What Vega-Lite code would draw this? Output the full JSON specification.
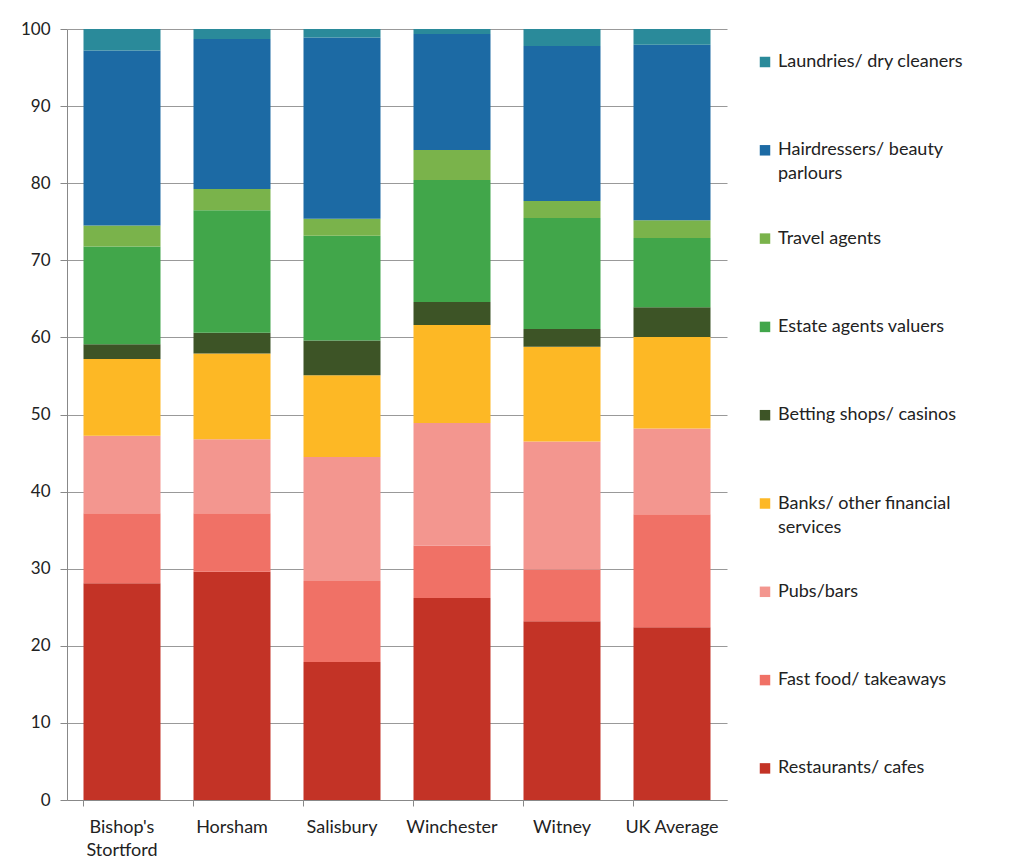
{
  "$schema": "https://vega.github.io/schema/vega-lite/v6.json",
  "width": 660,
  "height": 771,
  "autosize": {"type": "none"},
  "padding": {"left": 67, "top": 29, "right": 291, "bottom": 62},
  "background": "white",
  "data": {
    "values": [
      {"town": "Bishop's Stortford", "category": "Restaurants/ cafes", "rank": 1, "pct": 28.1},
      {"town": "Bishop's Stortford", "category": "Fast food/ takeaways", "rank": 2, "pct": 9.1},
      {"town": "Bishop's Stortford", "category": "Pubs/bars", "rank": 3, "pct": 10.05},
      {"town": "Bishop's Stortford", "category": "Banks/ other financial services", "rank": 4, "pct": 9.95},
      {"town": "Bishop's Stortford", "category": "Betting shops/ casinos", "rank": 5, "pct": 1.9},
      {"town": "Bishop's Stortford", "category": "Estate agents valuers", "rank": 6, "pct": 12.7},
      {"town": "Bishop's Stortford", "category": "Travel agents", "rank": 7, "pct": 2.7},
      {"town": "Bishop's Stortford", "category": "Hairdressers/ beauty parlours", "rank": 8, "pct": 22.7},
      {"town": "Bishop's Stortford", "category": "Laundries/ dry cleaners", "rank": 9, "pct": 2.8},

      {"town": "Horsham", "category": "Restaurants/ cafes", "rank": 1, "pct": 29.6},
      {"town": "Horsham", "category": "Fast food/ takeaways", "rank": 2, "pct": 7.6},
      {"town": "Horsham", "category": "Pubs/bars", "rank": 3, "pct": 9.6},
      {"town": "Horsham", "category": "Banks/ other financial services", "rank": 4, "pct": 11.1},
      {"town": "Horsham", "category": "Betting shops/ casinos", "rank": 5, "pct": 2.7},
      {"town": "Horsham", "category": "Estate agents valuers", "rank": 6, "pct": 15.9},
      {"town": "Horsham", "category": "Travel agents", "rank": 7, "pct": 2.75},
      {"town": "Horsham", "category": "Hairdressers/ beauty parlours", "rank": 8, "pct": 19.45},
      {"town": "Horsham", "category": "Laundries/ dry cleaners", "rank": 9, "pct": 1.3},

      {"town": "Salisbury", "category": "Restaurants/ cafes", "rank": 1, "pct": 17.9},
      {"town": "Salisbury", "category": "Fast food/ takeaways", "rank": 2, "pct": 10.5},
      {"town": "Salisbury", "category": "Pubs/bars", "rank": 3, "pct": 16.1},
      {"town": "Salisbury", "category": "Banks/ other financial services", "rank": 4, "pct": 10.6},
      {"town": "Salisbury", "category": "Betting shops/ casinos", "rank": 5, "pct": 4.5},
      {"town": "Salisbury", "category": "Estate agents valuers", "rank": 6, "pct": 13.6},
      {"town": "Salisbury", "category": "Travel agents", "rank": 7, "pct": 2.2},
      {"town": "Salisbury", "category": "Hairdressers/ beauty parlours", "rank": 8, "pct": 23.5},
      {"town": "Salisbury", "category": "Laundries/ dry cleaners", "rank": 9, "pct": 1.1},

      {"town": "Winchester", "category": "Restaurants/ cafes", "rank": 1, "pct": 26.2},
      {"town": "Winchester", "category": "Fast food/ takeaways", "rank": 2, "pct": 6.8},
      {"town": "Winchester", "category": "Pubs/bars", "rank": 3, "pct": 15.9},
      {"town": "Winchester", "category": "Banks/ other financial services", "rank": 4, "pct": 12.7},
      {"town": "Winchester", "category": "Betting shops/ casinos", "rank": 5, "pct": 3.0},
      {"town": "Winchester", "category": "Estate agents valuers", "rank": 6, "pct": 15.8},
      {"town": "Winchester", "category": "Travel agents", "rank": 7, "pct": 3.9},
      {"town": "Winchester", "category": "Hairdressers/ beauty parlours", "rank": 8, "pct": 15.05},
      {"town": "Winchester", "category": "Laundries/ dry cleaners", "rank": 9, "pct": 0.65},

      {"town": "Witney", "category": "Restaurants/ cafes", "rank": 1, "pct": 23.2},
      {"town": "Witney", "category": "Fast food/ takeaways", "rank": 2, "pct": 6.7},
      {"town": "Witney", "category": "Pubs/bars", "rank": 3, "pct": 16.6},
      {"town": "Witney", "category": "Banks/ other financial services", "rank": 4, "pct": 12.3},
      {"town": "Witney", "category": "Betting shops/ casinos", "rank": 5, "pct": 2.3},
      {"town": "Witney", "category": "Estate agents valuers", "rank": 6, "pct": 14.4},
      {"town": "Witney", "category": "Travel agents", "rank": 7, "pct": 2.2},
      {"town": "Witney", "category": "Hairdressers/ beauty parlours", "rank": 8, "pct": 20.1},
      {"town": "Witney", "category": "Laundries/ dry cleaners", "rank": 9, "pct": 2.2},

      {"town": "UK Average", "category": "Restaurants/ cafes", "rank": 1, "pct": 22.4},
      {"town": "UK Average", "category": "Fast food/ takeaways", "rank": 2, "pct": 14.65},
      {"town": "UK Average", "category": "Pubs/bars", "rank": 3, "pct": 11.15},
      {"town": "UK Average", "category": "Banks/ other financial services", "rank": 4, "pct": 11.85},
      {"town": "UK Average", "category": "Betting shops/ casinos", "rank": 5, "pct": 3.85},
      {"town": "UK Average", "category": "Estate agents valuers", "rank": 6, "pct": 9.0},
      {"town": "UK Average", "category": "Travel agents", "rank": 7, "pct": 2.3},
      {"town": "UK Average", "category": "Hairdressers/ beauty parlours", "rank": 8, "pct": 22.75},
      {"town": "UK Average", "category": "Laundries/ dry cleaners", "rank": 9, "pct": 2.05}
    ]
  },
  "mark": {"type": "bar"},
  "encoding": {
    "x": {
      "field": "town",
      "type": "nominal",
      "sort": ["Bishop's Stortford", "Horsham", "Salisbury", "Winchester", "Witney", "UK Average"],
      "scale": {"paddingInner": 0.3, "paddingOuter": 0.15},
      "axis": {
        "title": null,
        "labelAngle": 0,
        "bandPosition": 0,
        "ticks": true,
        "tickSize": 6,
        "tickColor": "#888888",
        "domainColor": "#888888",
        "labelFont": "Lato",
        "labelFontSize": 18,
        "labelColor": "#222222",
        "labelPadding": 12,
        "labelBaseline": "top",
        "labelLineHeight": 23,
        "labelExpr": "datum.label == \"Bishop's Stortford\" ? [\"Bishop's\", 'Stortford'] : datum.label"
      }
    },
    "y": {
      "field": "pct",
      "type": "quantitative",
      "stack": "zero",
      "scale": {"domain": [0, 100], "nice": false},
      "axis": {
        "title": null,
        "values": [0, 10, 20, 30, 40, 50, 60, 70, 80, 90, 100],
        "grid": true,
        "gridColor": "#999999",
        "gridWidth": 1,
        "tickSize": 7,
        "tickColor": "#888888",
        "domainColor": "#888888",
        "labelFont": "Lato",
        "labelFontSize": 17,
        "labelColor": "#222222",
        "labelPadding": 10
      }
    },
    "order": {"field": "rank", "type": "quantitative", "sort": "ascending"},
    "color": {
      "field": "category",
      "type": "nominal",
      "scale": {
        "domain": [
          "Laundries/ dry cleaners",
          "Hairdressers/ beauty parlours",
          "Travel agents",
          "Estate agents valuers",
          "Betting shops/ casinos",
          "Banks/ other financial services",
          "Pubs/bars",
          "Fast food/ takeaways",
          "Restaurants/ cafes"
        ],
        "range": ["#2A8A9A", "#1C6AA4", "#7AB34B", "#41A64A", "#3D5426", "#FDB825", "#F3968F", "#F07166", "#C33326"]
      },
      "legend": {
        "title": null,
        "orient": "none",
        "legendX": 689,
        "legendY": 24,
        "symbolType": "square",
        "symbolSize": 110,
        "symbolStrokeWidth": 0,
        "labelFont": "Lato",
        "labelFontSize": 18,
        "labelColor": "#222222",
        "labelLimit": 300,
        "labelOffset": 4,
        "rowPadding": 46.3,
        "labelExpr": "datum.label == 'Hairdressers/ beauty parlours' ? ['Hairdressers/ beauty', 'parlours'] : datum.label == 'Banks/ other financial services' ? ['Banks/ other financial', 'services'] : [datum.label, '']"
      }
    }
  },
  "config": {
    "view": {"stroke": null},
    "style": {"guide-label": {"lineHeight": 24}}
  }
}
